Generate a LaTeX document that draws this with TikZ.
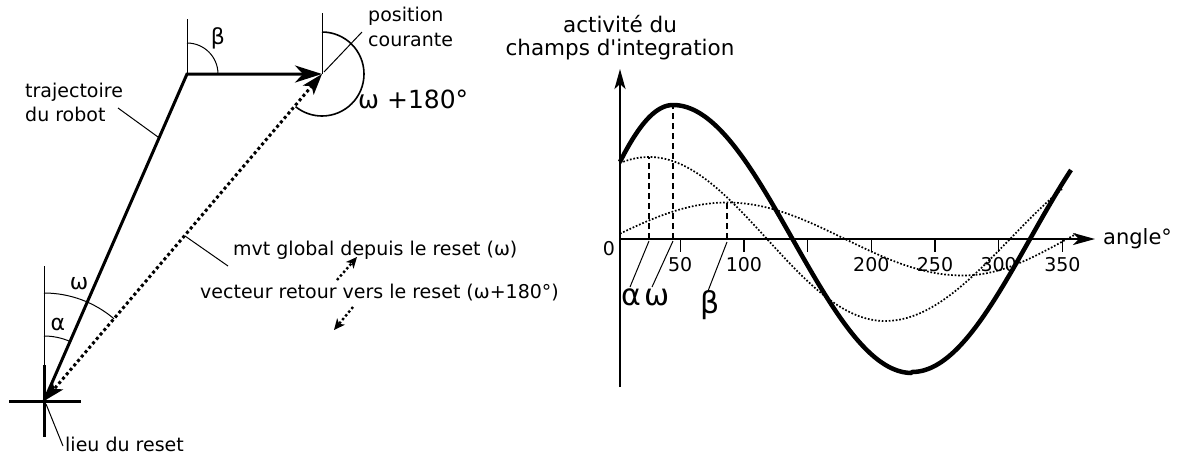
\documentclass[tikz,border=0pt]{standalone}
\usepackage{fontspec}
\setmainfont{DejaVu Sans}[Ligatures=TeXOff]
\usetikzlibrary{arrows.meta}
\begin{document}
\begin{tikzpicture}[x=1pt,y=1pt,
  thinline/.style={line width=1pt},
  trajline/.style={line width=3pt},
  dotline/.style={line width=3pt, dash pattern=on 3pt off 2.8pt},
  legarrow/.style={line width=2.4pt, dash pattern=on 2.4pt off 2.4pt, -{Stealth[length=11pt,width=10pt,inset=3pt]}},
  bigtip/.style={-{Stealth[length=27pt,width=17pt,inset=8pt]}},
  lbl/.style={inner sep=0pt, font=\fontsize{19}{23}\selectfont},
  biglbl/.style={inner sep=0pt, font=\fontsize{25}{30}\selectfont},
  greek/.style={inner sep=0pt, font=\fontsize{22}{26}\selectfont},
  greekbig/.style={inner sep=0pt, font=\fontsize{30}{36}\selectfont},
  titlelbl/.style={inner sep=0pt, font=\fontsize{21.5}{26}\selectfont},
  axisline/.style={line width=2.4pt},
  tickline/.style={line width=1.2pt},
  boldcurve/.style={line width=4.5pt},
  dotcurve/.style={line width=1.7pt, dash pattern=on 1.7pt off 1.8pt},
  dashv/.style={line width=2.8pt, dash pattern=on 6pt off 4pt}
]
\useasboundingbox (0,0) rectangle (1178,-456);

% ---------- left diagram ----------
\coordinate (R) at (44,-401);
\coordinate (C) at (187,-74);
\coordinate (P) at (322,-74);
\coordinate (Rtop) at (44,-266);
\coordinate (Ctop) at (187,-19);
\coordinate (Ptop) at (322,-13);

% reference verticals
\draw[thinline] (Rtop) -- (R);
\draw[thinline] (Ctop) -- (C);
\draw[thinline] (Ptop) -- (P);

% angle arcs
\draw[thinline] (C) ++(90:31) arc[start angle=90,end angle=0,radius=31];
\draw[line width=1.6pt] (P) ++(90:42) arc[start angle=90,end angle=-129,radius=42];
\draw[thinline] (R) ++(90:65) arc[start angle=90,end angle=66.4,radius=65];
\draw[thinline] (R) ++(90:108) arc[start angle=90,end angle=49.6,radius=108];

% trajectory
\draw[trajline, bigtip] (R) -- (C) -- (P);
% global movement / return vector
\draw[dotline, {Stealth[length=21pt,width=14pt,inset=5pt]}-{Stealth[length=21pt,width=14pt,inset=5pt]}] (P) -- (R);

% reset cross
\coordinate (crossW) at (9,-401);
\coordinate (crossE) at (81,-401);
\coordinate (crossN) at (44,-365);
\coordinate (crossS) at (44,-437);
\draw[trajline] (crossW) -- (crossE);
\draw[trajline] (crossN) -- (crossS);

% labels
\node[lbl, anchor=base west] (traj1) at (25,-97) {trajectoire};
\node[lbl, anchor=base west] (traj2) at (25,-121.5) {du robot};
\node[lbl, anchor=base west] (pos1) at (368,-21.5) {position};
\node[lbl, anchor=base west] (pos2) at (368,-46) {courante};
\node[biglbl, anchor=base west] (w180) at (358,-108) {ω +180°};
\node[lbl, anchor=base west] (lieu) at (65,-451) {lieu du reset};
\node[lbl, anchor=base west] (mvt) at (233,-255.7) {mvt global depuis le reset (ω)};
\node[lbl, anchor=base west] (vect) at (200,-298.3) {vecteur retour vers le reset (ω+180°)};
\node[greek] (betaL) at (218,-38) {β};
\node[greek] (alphaL) at (58,-324) {α};
\node[greek] (omegaL) at (79,-284) {ω};

% leader lines
\coordinate (ltA) at (118,-108);
\coordinate (ltB) at (158,-137);
\draw[thinline] (ltA) -- (ltB);
\coordinate (lpA) at (362,-32);
\coordinate (lpB) at (324,-72);
\draw[thinline] (lpA) -- (lpB);
\coordinate (lmA) at (185,-236);
\coordinate (lmB) at (228,-266);
\draw[thinline] (lmA) -- (lmB);
\coordinate (lrA) at (46,-404);
\coordinate (lrB) at (63,-446);
\draw[thinline] (lrA) -- (lrB);

% legend arrows
\coordinate (la1) at (337,-280);
\coordinate (la2) at (357,-257);
\draw[legarrow] (la1) -- (la2);
\coordinate (lb1) at (353,-307);
\coordinate (lb2) at (334,-330);
\draw[legarrow] (lb1) -- (lb2);

% ---------- right graph ----------
\coordinate (O) at (620,-239);
\coordinate (Ybot) at (620,-387);
\coordinate (Ytop) at (620,-69);
\coordinate (Xend) at (1095,-239);

% curves
\draw[dotcurve] plot[domain=620:1062,samples=200] (\x,{-((\x<885) ? (239-82*cos((\x-649)/236*180)) : (239+82*cos((\x-885)/250*180)))});
\draw[dotcurve] plot[domain=620:1076,samples=200] (\x,{-((\x<963) ? (239-36.5*cos((\x-727)/236*180)) : (239+36.5*cos((\x-963)/208*180)))});
\draw[boldcurve] plot[domain=620:1071,samples=240] (\x,{-((\x<673) ? (239-134*cos((\x-673)/174*180)) : ((\x<912) ? (239-134*cos((\x-673)/239*180)) : (239+133*cos((\x-912)/236*180))))});

% dashed markers
\coordinate (dA0) at (649,-239); \coordinate (dA1) at (649,-157);
\coordinate (dW0) at (673,-239); \coordinate (dW1) at (673,-105);
\coordinate (dB0) at (727,-239); \coordinate (dB1) at (727,-203);
\draw[dashv] (dA0) -- (dA1);
\draw[dashv] (dW0) -- (dW1);
\draw[dashv] (dB0) -- (dB1);

% axes
\draw[axisline, -{Stealth[length=20pt,width=11pt,inset=5pt]}] (Ybot) -- (Ytop);
\draw[axisline, -{Stealth[length=22pt,width=12pt,inset=6pt]}] (O) -- (Xend);

% ticks
\foreach \a in {50,100,150,200,250,300,350}{
  \coordinate (tk\a) at ({616.5+1.274*\a},-239);
  \draw[tickline] (tk\a) -- ++(0,-13);
}
\foreach \a in {50,100,200,250,300,350}{
  \node[lbl, anchor=base] (tl\a) at ({616.5+1.274*\a},-271.7) {\a};
}
\node[lbl, anchor=base] (zero) at (609,-255) {0};
\node[lbl, anchor=base west, font=\fontsize{21}{25}\selectfont] (angle) at (1103,-244) {angle°};
\node[titlelbl, anchor=base] (title1) at (620,-32) {activité du};
\node[titlelbl, anchor=base] (title2) at (620,-55) {champs d'integration};

% greek labels on graph
\node[greekbig] (gA) at (631.7,-297.5) {α};
\node[greekbig] (gW) at (657,-298) {ω};
\node[greekbig] (gB) at (710.5,-305) {β};
\coordinate (gAl0) at (649,-241); \coordinate (gAl1) at (630,-287);
\coordinate (gWl0) at (673,-241); \coordinate (gWl1) at (652,-287);
\coordinate (gBl0) at (727,-242); \coordinate (gBl1) at (708,-291);
\draw[thinline] (gAl0) -- (gAl1);
\draw[thinline] (gWl0) -- (gWl1);
\draw[thinline] (gBl0) -- (gBl1);
\end{tikzpicture}
\end{document}
